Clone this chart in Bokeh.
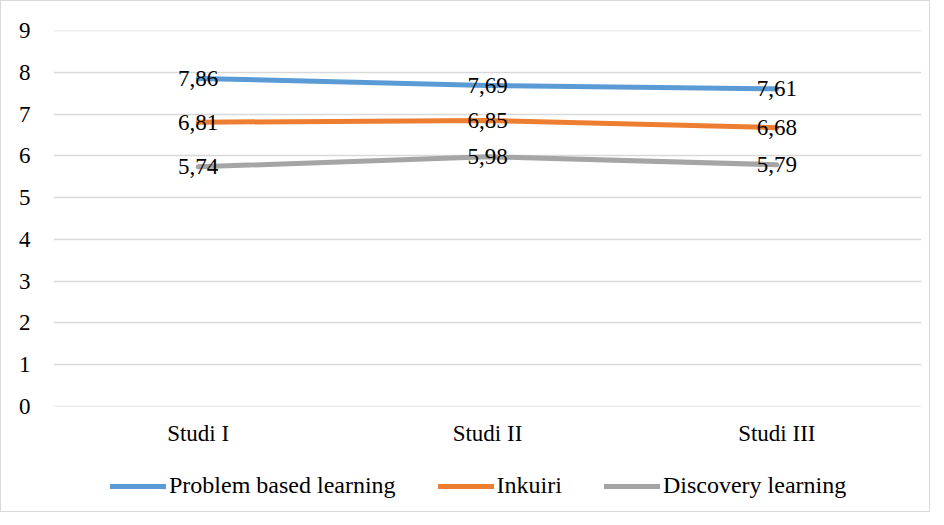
from bokeh.plotting import figure
from bokeh.models import ColumnDataSource, Range1d, FactorRange, Legend, LegendItem
from bokeh.layouts import column
from bokeh.core.properties import value
from bokeh.embed import file_html
from bokeh.resources import INLINE

categories = ["Studi I", "Studi II", "Studi III"]
series_names = ["Problem based learning", "Inkuiri", "Discovery learning"]
pbl = [7.86, 7.69, 7.61]
inkuiri = [6.81, 6.85, 6.68]
discovery = [5.74, 5.98, 5.79]
colors = ["#5B9BD5", "#ED7D31", "#A5A5A5"]
y_ticks = list(range(0, 10))

FONT = "Liberation Serif"
FS = "23px"
FS_TXT = "24px"

p = figure(width=928, height=455, x_range=FactorRange(*categories, range_padding=0),
           y_range=Range1d(-0.01, 9.01), output_backend="svg", toolbar_location=None,
           min_border_left=52, min_border_right=8, min_border_top=29, min_border_bottom=50)
p.outline_line_color = None
p.xgrid.grid_line_color = None
p.ygrid.grid_line_color = "#D9D9D9"
p.ygrid.grid_line_width = 1.5
p.yaxis.ticker = y_ticks
for ax in (p.xaxis[0], p.yaxis[0]):
    ax.axis_line_color = None
    ax.major_tick_line_color = None
    ax.minor_tick_line_color = None
    ax.major_label_text_font = FONT
    ax.major_label_text_color = "#000000"
    ax.major_label_text_font_size = FS
p.yaxis.major_label_standoff = 17
p.xaxis.major_label_standoff = 8

# legend strip: same series drawn out of view, only the legend is visible
p2 = figure(width=928, height=55, x_range=FactorRange(*categories), y_range=Range1d(0, 1),
            output_backend="svg", toolbar_location=None,
            min_border_left=0, min_border_right=0, min_border_top=0, min_border_bottom=0)
p2.axis.visible = False
p2.grid.visible = False
p2.outline_line_color = None

items = []
for name, vals, col in zip(series_names, [pbl, inkuiri, discovery], colors):
    src = ColumnDataSource(dict(x=categories, y=vals, lab=[f"{v:.2f}".replace(".", ",") for v in vals]))
    p.line("x", "y", source=src, line_color=col, line_width=5, line_cap="round", line_join="round")
    p.text("x", "y", text="lab", source=src, text_font=value(FONT), text_font_size=FS,
           text_color="#000000", text_align="center", text_baseline="middle")
    r2 = p2.line("x", "y", source=src, line_color=col, line_width=5, line_cap="round")
    items.append(LegendItem(label=name, renderers=[r2]))

legend = Legend(items=items, orientation="horizontal", location=(57, 12),
                label_text_font=FONT, label_text_font_size=FS_TXT, label_text_color="#000000",
                glyph_width=56, glyph_height=20, label_standoff=3, spacing=42,
                border_line_color=None, background_fill_alpha=0, padding=0, margin=0)
p2.add_layout(legend, "center")

layout = column(p, p2, spacing=0)
layout.styles = {"border": "1.5px solid #D9D9D9"}

open("out.html", "w").write(file_html(layout, INLINE))
